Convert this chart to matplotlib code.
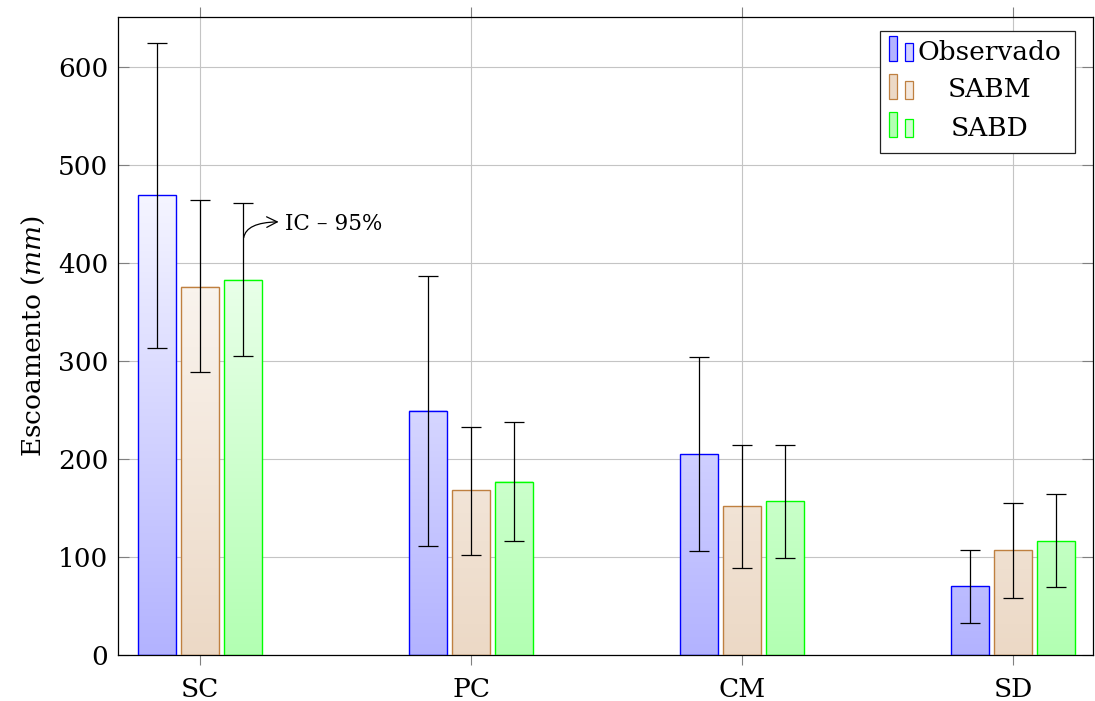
import numpy as np
import matplotlib
matplotlib.use('Agg')
import matplotlib.pyplot as plt
from matplotlib.patches import Rectangle

plt.rcParams.update({
    'font.family': 'DejaVu Serif', 'font.size': 19,
    'mathtext.fontset': 'dejavuserif',
})

# ── data ──────────────────────────────────────────────
categories = ['SC', 'PC', 'CM', 'SD']
series = ['Observado', 'SABM', 'SABD']

obs = [469, 249, 205, 70]
sabm = [376, 168, 152, 107]
sabd = [383, 177, 157, 116]

obs_lo = [313, 111, 106, 33]
obs_hi = [624, 387, 304, 107]
sabm_lo = [289, 102, 89, 58]
sabm_hi = [464, 233, 214, 155]
sabd_lo = [305, 116, 99, 69]
sabd_hi = [461, 238, 214, 164]

values = [obs, sabm, sabd]
lows = [obs_lo, sabm_lo, sabd_lo]
highs = [obs_hi, sabm_hi, sabd_hi]

# pgf colours: blue, brown, green  (fill = colour!30)
edge_colors = ['#0000ff', '#bf8040', '#00ff00']
fill_colors = [(0.7, 0.7, 1.0), (0.925, 0.85, 0.775), (0.7, 1.0, 0.7)]
offsets = [-0.16, 0.0, 0.16]
bar_w = 0.14
WHITE_AT = 540.0   # height where the vertical shading reaches white

fig = plt.figure(figsize=(10.95, 7.01), dpi=100)
ax = fig.add_axes([118 / 1095, 1 - 655 / 701, 975 / 1095, 638 / 701])

x = np.arange(len(categories))


def shade(base, y0, y1, n=200):
    t = np.clip(np.linspace(y0, y1, n) / WHITE_AT, 0, 1)[:, None]
    base = np.array(base)[None, :]
    return base * (1 - t) + np.ones(3)[None, :] * t


for vals, lo, hi, ec, fc, off in zip(values, lows, highs, edge_colors, fill_colors, offsets):
    bars = ax.bar(x + off, vals, width=bar_w, facecolor='none', edgecolor=ec,
                  linewidth=1.0, zorder=3)
    for p in bars.patches:
        x0, w, h = p.get_x(), p.get_width(), p.get_height()
        img = shade(fc, 0, h)[:, None, :]
        ax.imshow(img, extent=[x0, x0 + w, 0, h], origin='lower',
                  aspect='auto', zorder=2, interpolation='bilinear')
    vals_a = np.array(vals)
    yerr = [vals_a - np.array(lo), np.array(hi) - vals_a]
    ax.errorbar(x + off, vals, yerr=yerr, fmt='none', ecolor='black',
                elinewidth=0.9, capsize=7, capthick=0.9, zorder=4)

ax.set_xlim(-0.303, 3.295)
ax.set_ylim(0, 651)
ax.set_xticks(x)
ax.set_xticklabels(categories)
ax.set_yticks(np.arange(0, 601, 100))
ax.grid(True, color='#c4c4c4', linewidth=0.8, zorder=0)
ax.set_axisbelow(True)
ax.tick_params(axis='x', direction='out', length=7, color='#808080', pad=9,
               top=True)
ax.tick_params(axis='y', direction='in', length=8, color='#808080', pad=7,
               right=True)
for s in ax.spines.values():
    s.set_linewidth(0.9)
ax.set_ylabel('Escoamento ($mm$)', labelpad=8)

# annotation for the confidence interval
ax.annotate('', xy=(0.30, 442), xytext=(0.16, 423),
            arrowprops=dict(arrowstyle='->', color='black', lw=0.9,
                            connectionstyle='angle3,angleA=90,angleB=0'),
            zorder=5)
ax.text(0.314, 440, 'IC – 95%', fontsize=15.5, va='center', ha='left', zorder=5)

# legend (pgfplots style: two small bars per entry, centred labels)
ax.add_patch(Rectangle((0.782, 0.787), 0.1995, 0.191, transform=ax.transAxes,
                       facecolor='white', edgecolor='#222222', linewidth=0.9,
                       zorder=6))
row_bottom = [0.931, 0.871, 0.812]
row_center = [0.945, 0.886, 0.826]
for name, ec, fc, yb, yc in zip(series, edge_colors, fill_colors, row_bottom, row_center):
    light = tuple(0.6 * np.array(fc) + 0.4)
    ax.add_patch(Rectangle((0.791, yb), 0.0082, 0.039, transform=ax.transAxes,
                           facecolor=fc, edgecolor=ec, linewidth=0.9, zorder=7))
    ax.add_patch(Rectangle((0.807, yb), 0.0082, 0.028, transform=ax.transAxes,
                           facecolor=light, edgecolor=ec, linewidth=0.9, zorder=7))
    ax.text(0.894, yc, name, transform=ax.transAxes, ha='center', va='center',
            zorder=8)

plt.savefig('out.png', dpi=100)
plt.close()
